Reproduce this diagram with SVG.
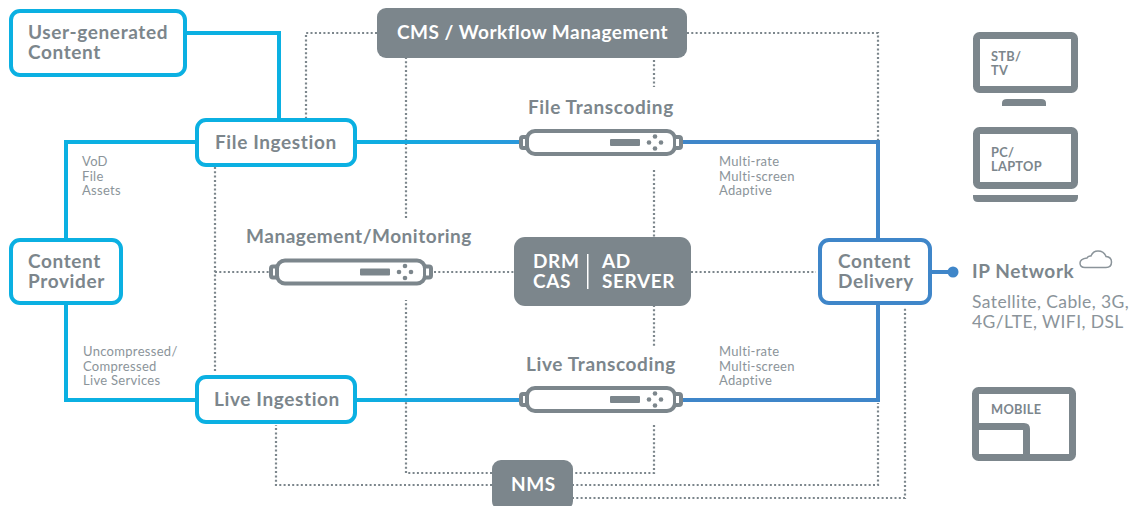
<svg xmlns="http://www.w3.org/2000/svg" width="1140" height="506" viewBox="0 0 1140 506">
<style>
text{font-family:Lato,"Open Sans","Liberation Sans",sans-serif;fill:#7c868c}
.t{font-size:19px;font-weight:700;letter-spacing:.62px}
.w{fill:#fff}
.s{font-size:13px;font-weight:400;letter-spacing:.3px;fill:#8b949a}
.n{font-size:17.5px;font-weight:400;letter-spacing:.4px;fill:#8b949a}
.i{font-size:12.8px;font-weight:700;letter-spacing:.3px}
.box{fill:#fff;stroke:#0bb0e2;stroke-width:4}
.blue{fill:none;stroke:#0bb0e2;stroke-width:4}
.dk{fill:none;stroke:#3f86c9;stroke-width:4}
.dot{fill:none;stroke:#7c868c;stroke-width:2.200;stroke-dasharray:2 2.300}
.g{fill:#7c868c}
.ic{fill:#fff;stroke:#7c868c;stroke-width:7}
</style>
<defs>
<linearGradient id="lg" gradientUnits="userSpaceOnUse" x1="357" y1="0" x2="519" y2="0"><stop offset="0" stop-color="#0bb0e2"/><stop offset="1" stop-color="#2a98db"/></linearGradient>
<g id="device">
<path d="M7 -5.500H4Q2 -5.500 2 -3.500V3.500Q2 5.500 4 5.500H7" fill="#fff" stroke="#7c868c" stroke-width="4"/>
<rect x="8" y="-11.500" width="148" height="23" rx="8" fill="#fff" stroke="#7c868c" stroke-width="4"/>
<path d="M157 -5.500H160Q162 -5.500 162 -3.500V3.500Q162 5.500 160 5.500H157" fill="#fff" stroke="#7c868c" stroke-width="4"/>
<rect x="91" y="-3.500" width="30" height="7" rx="1" fill="#7c868c"/>
<circle cx="136" cy="-6" r="2.300" fill="#7c868c"/><circle cx="136" cy="6" r="2.300" fill="#7c868c"/><circle cx="130" cy="0" r="2.300" fill="#7c868c"/><circle cx="142" cy="0" r="2.300" fill="#7c868c"/>
</g>
</defs>
<rect width="1140" height="506" fill="#fff"/>
<g id="connectors">
<path class="dot" d="M377 33H306V118M687 33H878V140M406 57V220M654 60V87M654 170V237M654 305V347M654 425V473H572M492 473H406V300M492 485H276V425M572 485H878V403M572 498H905V307M215 167V372M215 272H270M434 272H514M691 272H816"/>
<path class="blue" d="M187 33H279V118M195 142H66V238M66 305V400H195"/>
<path fill="none" stroke="url(#lg)" stroke-width="4" d="M357 142H519M357 400H519"/>
<path class="dk" d="M683 142H878V238M878 305V400H683M932 272H950"/>
<circle cx="953" cy="272" r="5.500" fill="#3f86c9"/>
</g>
<g id="user-content"><rect class="box" x="11" y="11" width="174" height="64" rx="9"/><text class="t" x="28" y="39">User-generated<tspan x="28" dy="20">Content</tspan></text></g>
<g id="file-ingestion"><rect class="box" x="197" y="120" width="158" height="45" rx="9"/><text class="t" x="215" y="149">File Ingestion</text></g>
<g id="content-provider"><rect class="box" x="11" y="240" width="110" height="63" rx="9"/><text class="t" x="28" y="268">Content<tspan x="28" dy="20">Provider</tspan></text></g>
<g id="live-ingestion"><rect class="box" x="197" y="377" width="158" height="45" rx="9"/><text class="t" x="214" y="406">Live Ingestion</text></g>
<g id="content-delivery"><rect x="820" y="240" width="110" height="63" rx="9" fill="#fff" stroke="#3f86c9" stroke-width="4"/><text class="t" x="838" y="268">Content<tspan x="838" dy="20">Delivery</tspan></text></g>
<g id="cms"><rect class="g" x="377" y="8" width="310" height="50" rx="9"/><text class="t w" x="397" y="39" style="letter-spacing:.48px">CMS / Workflow Management</text></g>
<g id="drm"><rect class="g" x="514" y="237" width="177" height="69" rx="11"/><text class="t w" x="533" y="268">DRM<tspan x="533" dy="20">CAS</tspan></text><rect x="587" y="254" width="1.500" height="35" fill="#fff"/><text class="t w" x="602" y="268">AD<tspan x="602" dy="20">SERVER</tspan></text></g>
<g id="nms"><rect class="g" x="492" y="460" width="81" height="50" rx="9"/><text class="t w" x="511" y="491">NMS</text></g>
<g id="file-transcoding"><text class="t" x="528" y="114">File Transcoding</text><use href="#device" x="519" y="142.500"/></g>
<g id="live-transcoding"><text class="t" x="526" y="371">Live Transcoding</text><use href="#device" x="519" y="399.500"/></g>
<g id="management"><text class="t" x="246" y="243" style="letter-spacing:.52px">Management/Monitoring</text><use href="#device" x="269" y="272"/></g>
<g id="labels">
<text class="s" x="82" y="166">VoD<tspan x="82" dy="14.700">File</tspan><tspan x="82" dy="14.700">Assets</tspan></text>
<text class="s" x="83" y="356">Uncompressed/<tspan x="83" dy="14.700">Compressed</tspan><tspan x="83" dy="14.700">Live Services</tspan></text>
<text class="s" x="719" y="166">Multi-rate<tspan x="719" dy="14.700">Multi-screen</tspan><tspan x="719" dy="14.700">Adaptive</tspan></text>
<text class="s" x="719" y="356">Multi-rate<tspan x="719" dy="14.700">Multi-screen</tspan><tspan x="719" dy="14.700">Adaptive</tspan></text>
</g>
<g id="ip-network"><text class="t" x="972" y="278">IP Network</text>
<path d="M1085 267.500H1106Q1111.500 267.500 1111.500 262Q1111.500 257 1106 256.500Q1104 251 1098 251Q1093 251 1091 256Q1088 255.500 1087 258Q1080 259 1080 263Q1080 267.500 1085 267.500Z" fill="none" stroke="#8b949a" stroke-width="1.500"/>
<text class="n" x="972" y="308">Satellite, Cable, 3G,<tspan x="972" dy="19.500">4G/LTE, WIFI, DSL</tspan></text></g>
<g id="stb-tv"><rect class="ic" x="976.500" y="35.500" width="98" height="54" rx="3"/><path class="g" d="M1002 106V103Q1002 99 1007 99H1041Q1046 99 1046 103V106Z"/><text class="i" x="991" y="61">STB/<tspan x="991" dy="14">TV</tspan></text></g>
<g id="pc-laptop"><rect class="ic" x="976.500" y="130.500" width="98" height="55" rx="3"/><path class="g" d="M973 195H1078V197Q1078 202 1073 202H978Q973 202 973 197Z"/><text class="i" x="991" y="157">PC/<tspan x="991" dy="14">LAPTOP</tspan></text></g>
<g id="mobile"><rect class="ic" x="975.500" y="390.500" width="97" height="67" rx="3"/><path d="M976 426.500H1024Q1026.500 426.500 1026.500 429V457" fill="none" stroke="#7c868c" stroke-width="7"/><text class="i" x="991" y="414">MOBILE</text></g>
</svg>
